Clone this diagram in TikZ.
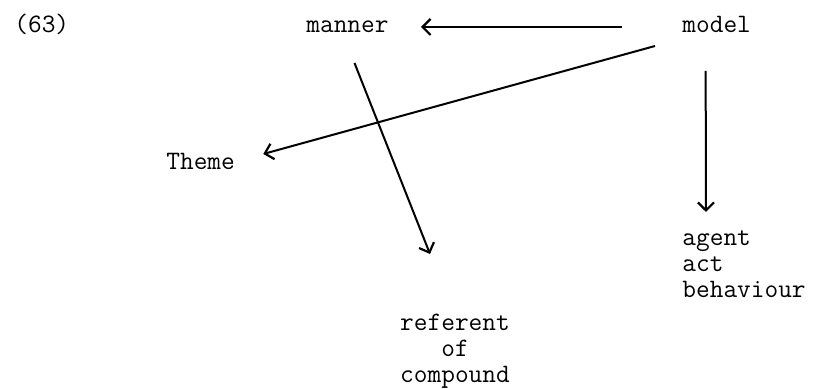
\documentclass[tikz,border=0pt]{standalone}
\usepackage{fontspec}
\usepackage{tikz}
\usetikzlibrary{arrows.meta,positioning}

\begin{document}
\begin{tikzpicture}[
  x=0.5pt,y=-0.5pt,
  lbl/.style={inner sep=0pt,font=\ttfamily\fontsize{13.3}{13}\selectfont},
  arr/.style={-{Straight Barb[length=4pt,width=8pt,line width=1.1pt]},line width=1pt}
]
\useasboundingbox (0,0) rectangle (821,389);
% text
\node[lbl,anchor=base west] (num) at (14,33) {(63)};
\node[lbl,anchor=base west] (manner) at (306,33) {manner};
\node[lbl,anchor=base west] (model) at (682,33) {model};
\node[lbl,anchor=base west] (theme) at (166,170) {Theme};
\node[lbl,anchor=north west,align=left] (agent) at (682,230) {agent\\act\\behaviour};
\node[lbl,anchor=north,align=center] (referent) at (455,314) {referent\\of\\compound};

% arrows
\draw[arr] ([xshift=-30pt,yshift=3pt]model.base west) -- ([xshift=16pt,yshift=3pt]manner.base east);
\draw[arr] ([xshift=-13.5pt,yshift=-6.5pt]model.base west) -- ([xshift=14pt,yshift=8pt]theme.base east);
\draw[arr] ([xshift=3.5pt,yshift=-15pt]manner.base) -- ([xshift=-12.5pt,yshift=30pt]referent.north);
\draw[arr] ([xshift=-5.5pt,yshift=-19pt]model.base) -- ([xshift=12pt,yshift=9pt]agent.north west);
\end{tikzpicture}
\end{document}
